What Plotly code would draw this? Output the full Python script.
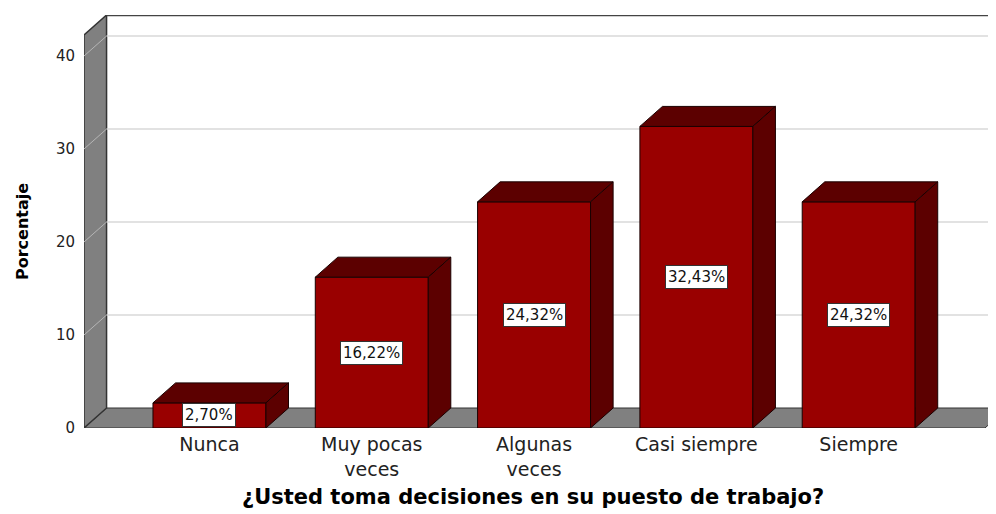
import plotly.graph_objects as go


# ---------------------------------------
# Data
# ---------------------------------------

categories = ["Nunca", "Muy pocas<br>veces", "Algunas<br>veces", "Casi siempre", "Siempre"]
percentages = [2.70, 16.22, 24.32, 32.43, 24.32]
y_ticks = [0, 10, 20, 30, 40]


# ---------------------------------------
# Style / 3D geometry
# ---------------------------------------

FRONT = "#990000"
DARK = "#5c0000"
WALL = "#808080"
GRID = "#d9d9d9"
FONT = "DejaVu Sans"

BAR_W = 0.696
DX = 0.139          # depth offset along x (data units)
DY = 2.15           # depth offset along y (data units)
X_LEFT = -0.773
X_RIGHT = 4.846
X_FLOOR_END = 4.778
WALL_TOP = 42.26
Y_TOP = WALL_TOP + DY

xs = list(range(len(categories)))

fig = go.Figure()

# front faces
fig.add_trace(go.Bar(
    x=xs,
    y=percentages,
    width=BAR_W,
    marker=dict(color=FRONT, line=dict(color="#1a0000", width=1)),
    hoverinfo="skip",
))

# top and side faces
for x, v in zip(xs, percentages):
    l = x - BAR_W / 2
    r = x + BAR_W / 2
    fig.add_trace(go.Scatter(
        x=[l, r, r + DX, l + DX, l],
        y=[v, v, v + DY, v + DY, v],
        fill="toself", fillcolor=DARK, mode="lines",
        line=dict(color="#1a0000", width=1), hoverinfo="skip",
    ))
    fig.add_trace(go.Scatter(
        x=[r, r + DX, r + DX, r, r],
        y=[0, DY, v + DY, v, 0],
        fill="toself", fillcolor=DARK, mode="lines",
        line=dict(color="#1a0000", width=1), hoverinfo="skip",
    ))

shapes = []

# floor
shapes.append(dict(
    type="path", xref="x", yref="y", layer="below",
    path=f"M{X_LEFT},0 L{X_FLOOR_END},0 L{X_FLOOR_END + DX},{DY} L{X_LEFT + DX},{DY} Z",
    fillcolor=WALL, line=dict(color="#333333", width=1),
))

# left wall
shapes.append(dict(
    type="path", xref="x", yref="y", layer="below",
    path=f"M{X_LEFT},0 L{X_LEFT},{WALL_TOP} L{X_LEFT + DX},{Y_TOP} L{X_LEFT + DX},{DY} Z",
    fillcolor=WALL, line=dict(color="#333333", width=1.5),
))

# grid lines: back wall + left wall diagonals
for t in y_ticks[1:]:
    shapes.append(dict(
        type="line", xref="x", yref="y", layer="below",
        x0=X_LEFT + DX, x1=X_RIGHT + 1, y0=t + DY, y1=t + DY,
        line=dict(color=GRID, width=1.5),
    ))
    shapes.append(dict(
        type="line", xref="x", yref="y", layer="below",
        x0=X_LEFT, x1=X_LEFT + DX, y0=t, y1=t + DY,
        line=dict(color="#b5b5b5", width=1),
    ))

# back wall top edge
shapes.append(dict(
    type="line", xref="x", yref="y", layer="below",
    x0=X_LEFT + DX, x1=X_RIGHT + 1, y0=Y_TOP, y1=Y_TOP,
    line=dict(color="#444444", width=2.5),
))

# value labels
annotations = []
for x, v in zip(xs, percentages):
    annotations.append(dict(
        x=x, y=v / 2, xref="x", yref="y",
        text=f"{v:.2f}%".replace(".", ","),
        showarrow=False,
        font=dict(family=FONT, size=15, color="#111111"),
        bgcolor="white", bordercolor="#333333", borderwidth=1, borderpad=2,
    ))

# axis titles (plot area is 912 x 413 px)
annotations.append(dict(
    x=(533 - 84) / 912, y=-(497 - 428) / 413, xref="paper", yref="paper",
    text="<b>¿Usted toma decisiones en su puesto de trabajo?</b>",
    showarrow=False, xanchor="center", yanchor="middle",
    font=dict(family=FONT, size=21, color="black"),
))
annotations.append(dict(
    x=-(84 - 22) / 912, y=1 - (232 - 15) / 413, xref="paper", yref="paper",
    text="<b>Porcentaje</b>", textangle=-90,
    showarrow=False, xanchor="center", yanchor="middle",
    font=dict(family=FONT, size=16, color="black"),
))

# page body has an 8px margin, so the figure is drawn 8px smaller
fig.update_layout(
    width=988,
    height=506,
    margin=dict(l=76, r=0, t=7, b=86),
    plot_bgcolor="white",
    paper_bgcolor="white",
    showlegend=False,
    shapes=shapes,
    annotations=annotations,
    xaxis=dict(
        range=[X_LEFT, X_RIGHT],
        tickvals=xs,
        ticktext=categories,
        showgrid=False, zeroline=False, showline=False,
        tickfont=dict(family=FONT, size=19, color="#222222"),
        ticklabelstandoff=3,
    ),
    yaxis=dict(
        range=[0, Y_TOP],
        tickvals=y_ticks,
        showgrid=False, zeroline=False, showline=False,
        tickfont=dict(family=FONT, size=15, color="#222222"),
        ticklabelstandoff=8,
    ),
)

fig.write_html("out.html")
